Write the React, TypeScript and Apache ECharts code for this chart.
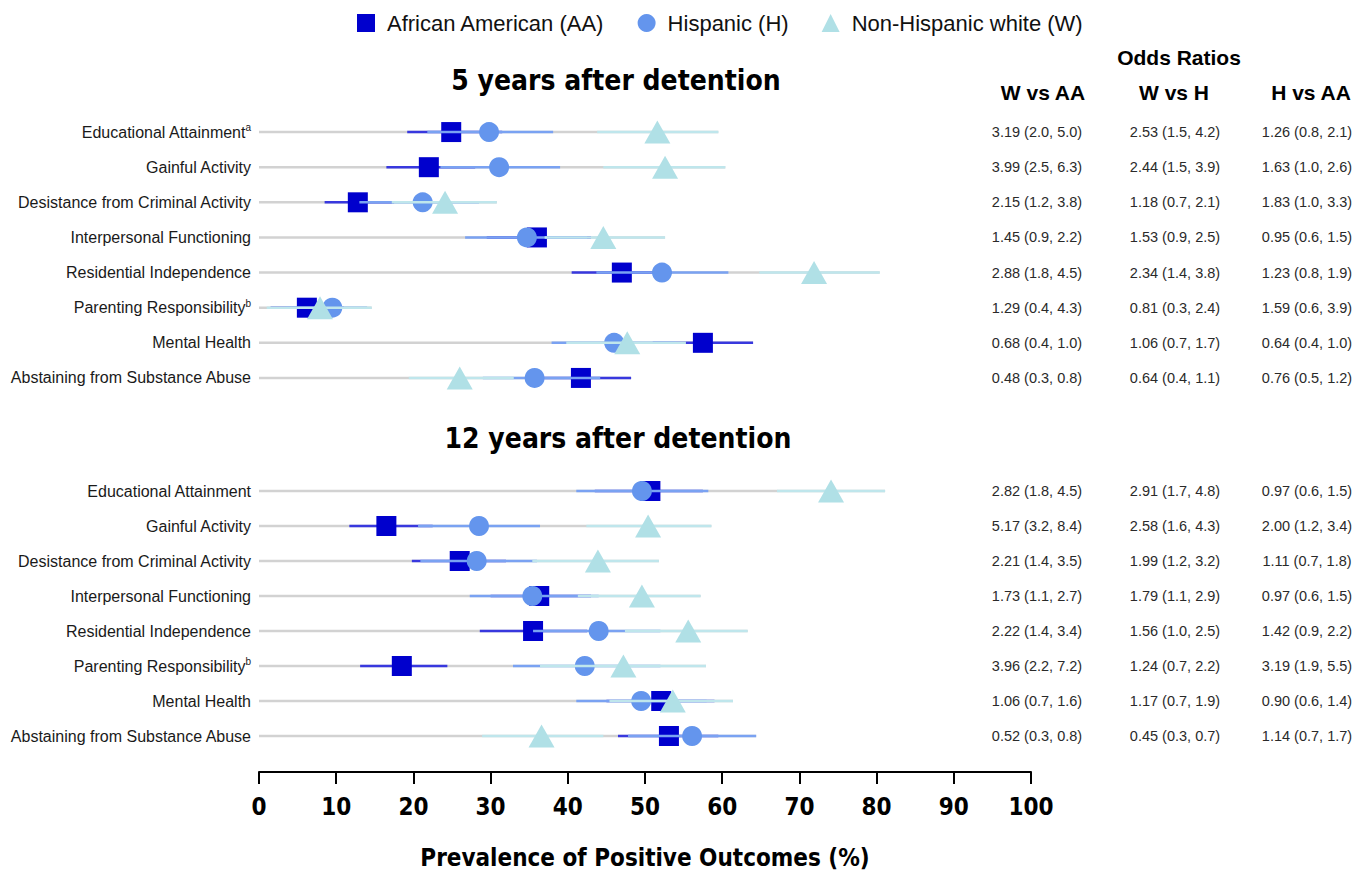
import React, { useEffect, useRef } from "react";
import * as echarts from "echarts";

const FONT = "'Liberation Sans', Arial, Helvetica, sans-serif";
const NARROW = "'Liberation Sans Narrow', 'Arial Narrow', 'DejaVu Sans Condensed', 'Liberation Sans', sans-serif";

// ---- categories ----
const outcomes = [
  "Educational Attainment",
  "Gainful Activity",
  "Desistance from Criminal Activity",
  "Interpersonal Functioning",
  "Residential Independence",
  "Parenting Responsibility",
  "Mental Health",
  "Abstaining from Substance Abuse",
];
const sup5 = ["a", "", "", "", "", "b", "", ""];
const sup12 = ["", "", "", "", "", "b", "", ""];

const groupNames = ["African American (AA)", "Hispanic (H)", "Non-Hispanic white (W)"];
const xTicks = [0, 100, 10];

// ---- 5 years after detention (prevalence %, 95% CI) ----
const aa5 = [24.9, 22.0, 12.8, 36.0, 47.0, 6.2, 57.5, 41.7];
const aa5Lo = [19.2, 16.5, 8.5, 29.5, 40.5, 1.5, 51.0, 35.5];
const aa5Hi = [31.5, 28.0, 17.5, 43.0, 53.5, 11.0, 64.0, 48.2];
const h5 = [29.8, 31.1, 21.2, 34.7, 52.2, 9.5, 46.0, 35.7];
const h5Lo = [21.8, 23.5, 13.0, 26.7, 43.7, 3.5, 37.9, 29.0];
const h5Hi = [38.1, 39.0, 28.5, 42.5, 60.8, 14.0, 54.0, 44.2];
const w5 = [51.6, 52.6, 24.1, 44.6, 71.9, 7.9, 47.7, 26.0];
const w5Lo = [43.8, 44.6, 17.2, 37.0, 64.8, 1.0, 39.8, 19.4];
const w5Hi = [59.5, 60.4, 30.8, 52.6, 80.4, 14.6, 55.3, 33.0];

// ---- 12 years after detention ----
const aa12 = [50.7, 16.5, 26.0, 36.3, 35.5, 18.5, 52.1, 53.1];
const aa12Lo = [43.5, 11.7, 19.8, 30.0, 28.6, 13.1, 45.0, 46.5];
const aa12Hi = [57.5, 22.5, 32.0, 43.0, 42.5, 24.4, 59.0, 59.5];
const h12 = [49.6, 28.5, 28.2, 35.4, 44.0, 42.2, 49.5, 56.1];
const h12Lo = [41.1, 20.6, 20.9, 27.3, 35.5, 32.9, 41.1, 47.8];
const h12Hi = [58.2, 36.4, 36.0, 44.0, 52.0, 52.0, 58.0, 64.4];
const w12 = [74.1, 50.4, 43.9, 49.6, 55.6, 47.2, 53.6, 36.6];
const w12Lo = [67.1, 42.4, 35.4, 41.3, 47.4, 36.4, 45.4, 28.9];
const w12Hi = [81.1, 58.6, 51.8, 57.2, 63.3, 57.9, 61.4, 44.6];

// ---- odds ratios ----
const or5WvAA = ["3.19 (2.0, 5.0)", "3.99 (2.5, 6.3)", "2.15 (1.2, 3.8)", "1.45 (0.9, 2.2)", "2.88 (1.8, 4.5)", "1.29 (0.4, 4.3)", "0.68 (0.4, 1.0)", "0.48 (0.3, 0.8)"];
const or5WvH = ["2.53 (1.5, 4.2)", "2.44 (1.5, 3.9)", "1.18 (0.7, 2.1)", "1.53 (0.9, 2.5)", "2.34 (1.4, 3.8)", "0.81 (0.3, 2.4)", "1.06 (0.7, 1.7)", "0.64 (0.4, 1.1)"];
const or5HvAA = ["1.26 (0.8, 2.1)", "1.63 (1.0, 2.6)", "1.83 (1.0, 3.3)", "0.95 (0.6, 1.5)", "1.23 (0.8, 1.9)", "1.59 (0.6, 3.9)", "0.64 (0.4, 1.0)", "0.76 (0.5, 1.2)"];
const or12WvAA = ["2.82 (1.8, 4.5)", "5.17 (3.2, 8.4)", "2.21 (1.4, 3.5)", "1.73 (1.1, 2.7)", "2.22 (1.4, 3.4)", "3.96 (2.2, 7.2)", "1.06 (0.7, 1.6)", "0.52 (0.3, 0.8)"];
const or12WvH = ["2.91 (1.7, 4.8)", "2.58 (1.6, 4.3)", "1.99 (1.2, 3.2)", "1.79 (1.1, 2.9)", "1.56 (1.0, 2.5)", "1.24 (0.7, 2.2)", "1.17 (0.7, 1.9)", "0.45 (0.3, 0.7)"];
const or12HvAA = ["0.97 (0.6, 1.5)", "2.00 (1.2, 3.4)", "1.11 (0.7, 1.8)", "0.97 (0.6, 1.5)", "1.42 (0.9, 2.2)", "3.19 (1.9, 5.5)", "0.90 (0.6, 1.4)", "1.14 (0.7, 1.7)"];
const orHeaders = ["W vs AA", "W vs H", "H vs AA"];

const COLORS = {
  aa: "#0000CD",
  aaLine: "#3838de",
  h: "#6495ED",
  hLine: "#7aa2f2",
  w: "#B0E0E6",
  wLine: "#bfe6ec",
  gray: "#d2d2d2",
};

function lineRenderer(color: string, width: number) {
  return (params: any, api: any) => {
    const idx = api.value(2);
    const p1 = api.coord([api.value(0), idx]);
    const p2 = api.coord([api.value(1), idx]);
    return {
      type: "line",
      shape: { x1: p1[0], y1: p1[1], x2: p2[0], y2: p2[1] },
      style: { stroke: color, lineWidth: width },
    };
  };
}

function rows(lo: number[], hi: number[]) {
  return lo.map((l, i) => [l, hi[i], i]);
}
function points(v: number[]) {
  return v.map((x, i) => [x, i]);
}

function gridSeries(g: number, d: any) {
  const maxHi = d.aaHi.map((_: number, i: number) => Math.max(d.aaHi[i], d.hHi[i], d.wHi[i]));
  const base = { xAxisIndex: g, yAxisIndex: g * 4, silent: true };
  const custom = (data: any, color: string, z: number) => ({
    ...base,
    type: "custom",
    renderItem: lineRenderer(color, 2.5),
    encode: { x: [0, 1], y: 2 },
    data,
    z,
  });
  return [
    custom(rows(d.aaHi.map(() => 0), maxHi), COLORS.gray, 2),
    custom(rows(d.aaLo, d.aaHi), COLORS.aaLine, 3),
    { ...base, type: "scatter", name: groupNames[0], symbol: "rect", symbolSize: 20, itemStyle: { color: COLORS.aa, opacity: 1 }, data: points(d.aa), z: 4 },
    custom(rows(d.hLo, d.hHi), COLORS.hLine, 5),
    { ...base, type: "scatter", name: groupNames[1], symbol: "circle", symbolSize: 20, itemStyle: { color: COLORS.h, opacity: 1 }, data: points(d.h), z: 6 },
    custom(rows(d.wLo, d.wHi), COLORS.wLine, 7),
    { ...base, type: "scatter", name: groupNames[2], symbol: "triangle", symbolSize: [26, 23], itemStyle: { color: COLORS.w, opacity: 1 }, data: points(d.w), z: 8 },
  ];
}

function yAxesFor(g: number, sup: string[], ors: string[][]) {
  const left = {
    type: "category",
    gridIndex: g,
    inverse: true,
    data: outcomes,
    axisLine: { show: false },
    axisTick: { show: false },
    splitLine: { show: false },
    axisLabel: {
      margin: 8,
      formatter: (_v: string, i: number) =>
        sup[i] ? `{n|${outcomes[i]}}{s|${sup[i]}}` : `{n|${outcomes[i]}}`,
      rich: {
        n: { fontSize: 16, color: "#1a1a1a", fontFamily: FONT },
        s: { fontSize: 10, color: "#1a1a1a", fontFamily: FONT, verticalAlign: "top", padding: [0, 0, 9, 0] },
      },
    },
  };
  const margins = [6, 144, 276];
  const right = ors.map((arr, k) => ({
    type: "category",
    gridIndex: g,
    inverse: true,
    position: "right",
    offset: 0,
    data: arr,
    axisLine: { show: false },
    axisTick: { show: false },
    splitLine: { show: false },
    axisLabel: {
      margin: margins[k],
      align: "center",
      fontSize: 14.5,
      color: "#2a2a2a",
      fontFamily: FONT,
      formatter: (_v: string, i: number) => arr[i],
    },
  }));
  return [left, ...right];
}

export default function App() {
  const ref = useRef<HTMLDivElement>(null);
  useEffect(() => {
    document.body.style.margin = "0";
    const chart = echarts.init(ref.current!, undefined, { renderer: "svg" });
    const option: any = {
      animation: false,
      backgroundColor: "#ffffff",
      legend: {
        left: 352,
        top: 7,
        itemWidth: 18,
        itemHeight: 18,
        itemGap: 33,
        selectedMode: false,
        textStyle: { fontSize: 22, color: "#111", fontFamily: FONT, padding: [0, 0, 0, 7] },
        data: [
          { name: groupNames[0], icon: "rect" },
          { name: groupNames[1], icon: "circle" },
          { name: groupNames[2], icon: "triangle" },
        ],
      },
      grid: [
        { left: 259, right: 337, top: 114.5, height: 281 },
        { left: 259, right: 337, top: 473.5, height: 280 },
      ],
      xAxis: [
        { type: "value", gridIndex: 0, min: xTicks[0], max: xTicks[1], interval: xTicks[2], show: false },
        {
          type: "value",
          gridIndex: 1,
          min: xTicks[0],
          max: xTicks[1],
          interval: xTicks[2],
          offset: 18.5,
          axisLine: { show: true, lineStyle: { color: "#000", width: 2 } },
          axisTick: { show: true, length: 12, lineStyle: { color: "#000", width: 2 } },
          splitLine: { show: false },
          axisLabel: { margin: 23, fontSize: 24, fontWeight: "bold", color: "#000", fontFamily: NARROW },
          name: "Prevalence of Positive Outcomes (%)",
          nameLocation: "middle",
          nameGap: 74,
          nameTextStyle: { fontSize: 24, fontWeight: "bold", color: "#000", fontFamily: NARROW },
        },
      ],
      yAxis: [
        ...yAxesFor(0, sup5, [or5WvAA, or5WvH, or5HvAA]),
        ...yAxesFor(1, sup12, [or12WvAA, or12WvH, or12HvAA]),
      ],
      series: [
        ...gridSeries(0, { aa: aa5, aaLo: aa5Lo, aaHi: aa5Hi, h: h5, hLo: h5Lo, hHi: h5Hi, w: w5, wLo: w5Lo, wHi: w5Hi }),
        ...gridSeries(1, { aa: aa12, aaLo: aa12Lo, aaHi: aa12Hi, h: h12, hLo: h12Lo, hHi: h12Hi, w: w12, wLo: w12Lo, wHi: w12Hi }),
      ],
      graphic: [
        { type: "text", x: 616, y: 80, style: { text: "5 years after detention", fill: "#000", fontSize: 28, fontWeight: "bold", fontFamily: NARROW, align: "center", verticalAlign: "middle" } },
        { type: "text", x: 618, y: 438, style: { text: "12 years after detention", fill: "#000", fontSize: 28, fontWeight: "bold", fontFamily: NARROW, align: "center", verticalAlign: "middle" } },
        { type: "text", x: 1179, y: 57, style: { text: "Odds Ratios", fill: "#000", fontSize: 21, fontWeight: "bold", fontFamily: FONT, align: "center", verticalAlign: "middle" } },
        ...orHeaders.map((t, k) => ({
          type: "text",
          x: [1043, 1174, 1311][k],
          y: 92,
          style: { text: t, fill: "#000", fontSize: 21, fontWeight: "bold", fontFamily: FONT, align: "center", verticalAlign: "middle" },
        })),
      ],
    };
    chart.setOption(option);
    return () => chart.dispose();
  }, []);
  return <div ref={ref} style={{ width: 1368, height: 878 }} />;
}
